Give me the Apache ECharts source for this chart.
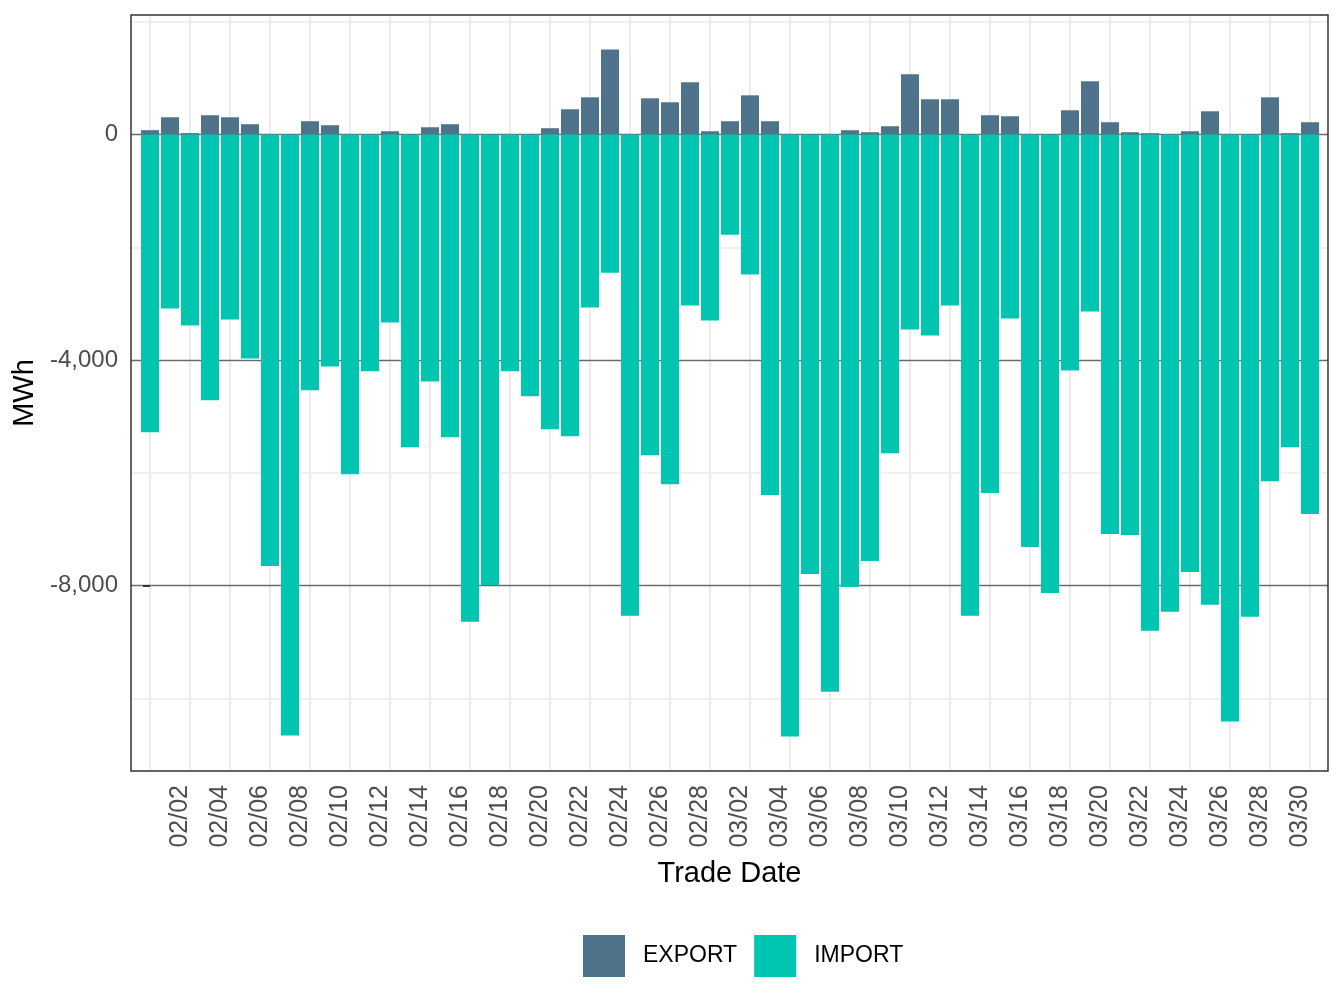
<!DOCTYPE html>
<html>
<head>
<meta charset="utf-8">
<title>Trade Date - MWh</title>
<script src="https://cdn.jsdelivr.net/npm/echarts@6/dist/echarts.min.js"></script>
</head>
<body style="margin:0;background:#fff">
<div id="main" style="width:1344px;height:1008px;"></div>
<script type="text/javascript">
var dates = ['02/01','02/02','02/03','02/04','02/05','02/06','02/07','02/08','02/09','02/10',
    '02/11','02/12','02/13','02/14','02/15','02/16','02/17','02/18','02/19','02/20',
    '02/21','02/22','02/23','02/24','02/25','02/26','02/27','02/28',
    '03/01','03/02','03/03','03/04','03/05','03/06','03/07','03/08','03/09','03/10',
    '03/11','03/12','03/13','03/14','03/15','03/16','03/17','03/18','03/19','03/20',
    '03/21','03/22','03/23','03/24','03/25','03/26','03/27','03/28','03/29','03/30','03/31'];

var exportVals = [77, 306, 25, 342, 306, 183, 0, 0, 236, 165,
    0, 0, 58, 0, 129, 183, 0, 0, 0, 0,
    112, 448, 660, 1510, 0, 642, 572, 926, 58, 236,
    695, 236, 0, 0, 0, 76, 41, 147, 1067, 625,
    625, 0, 342, 324, 0, 0, 430, 943, 218, 41,
    23, 0, 58, 412, 0, 0, 660, 23, 218];

var importVals = [-5281, -3086, -3387, -4715, -3281, -3971, -7653, -10662, -4538, -4113,
    -6025, -4201, -3334, -5547, -4379, -5370, -8644, -7989, -4201, -4644,
    -5228, -5352, -3069, -2450, -8538, -5688, -6202, -3034, -3299, -1777,
    -2485, -6396, -10680, -7795, -9883, -8025, -7565, -5653, -3458, -3565,
    -3034, -8538, -6361, -3264, -7317, -8131, -4184, -3140, -7087, -7104,
    -8803, -8467, -7759, -8343, -10414, -8556, -6149, -5547, -6733];

// labelled ticks sit on every other day starting 02/02, grid lines on the days in between
var xTicks = [1, 3, 5, 7, 9, 11, 13, 15, 17, 19, 21, 23, 25, 27, 29, 31, 33, 35, 37, 39,
    41, 43, 45, 47, 49, 51, 53, 55, 57];
var xGrid = [0, 2, 4, 6, 8, 10, 12, 14, 16, 18, 20, 22, 24, 26, 28, 30, 32, 34, 36, 38,
    40, 42, 44, 46, 48, 50, 52, 54, 56, 58];
var yTicks = [-8000, -4000, 0];
var yMinor = [-10000, -6000, -2000, 2000];

var xMin = -0.95, xMax = 58.9;
// the rotated date labels sit just right of their tick, so they go on a copy of the axis shifted half a day
var labelShift = 0.5;

var font = '"Liberation Sans", Arial, Helvetica, sans-serif';
var myChart = echarts.init(document.getElementById('main'));

var option = {
    animation: false,
    backgroundColor: '#fff',
    textStyle: {fontFamily: font},
    // panel border drawn above the grid lines
    grid: {
        left: 131, right: 16, top: 15, bottom: 237, z: 2,
        show: true, borderColor: '#333', borderWidth: 1.5
    },
    legend: {
        data: ['EXPORT', 'IMPORT'],
        left: 583, top: 935,
        padding: 0,
        itemWidth: 42, itemHeight: 42, itemGap: 17,
        icon: 'rect',
        textStyle: {fontSize: 23, color: '#000', fontFamily: font, padding: [0, 0, 0, 13]}
    },
    xAxis: [{
        type: 'value', min: xMin, max: xMax, position: 'bottom', z: 1,
        name: 'Trade Date', nameLocation: 'middle', nameGap: 88,
        nameTextStyle: {fontSize: 29, color: '#000', fontFamily: font},
        axisLine: {show: false},
        axisTick: {show: true, customValues: xTicks, length: 7, lineStyle: {color: '#333', width: 2}},
        axisLabel: {show: false},
        splitLine: {show: false}
    }, {
        type: 'value', min: xMin, max: xMax, position: 'top', z: 0,
        axisLine: {show: false},
        axisTick: {show: false, customValues: xGrid},
        axisLabel: {show: false},
        splitLine: {show: true, lineStyle: {color: '#EBEBEB', width: 2}}
    }, {
        type: 'value', min: xMin - labelShift, max: xMax - labelShift, position: 'bottom', z: 1,
        axisLine: {show: false},
        axisTick: {show: false},
        axisLabel: {
            customValues: xTicks, rotate: 90, margin: 14,
            fontSize: 25, color: '#4D4D4D', fontFamily: font,
            formatter: function (v) { return dates[v]; }
        },
        splitLine: {show: false}
    }],
    yAxis: [{
        type: 'value', min: -11290, max: 2120, z: 1,
        name: 'MWh', nameLocation: 'middle', nameGap: 90, nameRotate: 90,
        nameTextStyle: {fontSize: 29, color: '#000', fontFamily: font},
        axisLine: {show: false},
        axisTick: {show: true, customValues: yTicks, length: 7, lineStyle: {color: '#333', width: 2}},
        axisLabel: {
            customValues: yTicks, margin: 13, fontSize: 24, color: '#4D4D4D', fontFamily: font,
            formatter: function (v) { return v.toLocaleString('en-US'); }
        },
        splitLine: {show: true, lineStyle: {color: '#6B6B6B', width: 1.3}}
    }, {
        type: 'value', min: -11290, max: 2120, position: 'right', z: 0,
        axisLine: {show: false},
        axisTick: {show: false, customValues: yMinor},
        axisLabel: {show: false},
        splitLine: {show: true, lineStyle: {color: '#EBEBEB', width: 1.5}}
    }],
    series: [{
        name: 'EXPORT', type: 'bar', stack: 'total', barWidth: 18,
        xAxisIndex: 0, yAxisIndex: 0, z: 3,
        itemStyle: {color: '#4E738A'},
        data: exportVals.map(function (v, i) { return [i, v]; })
    }, {
        name: 'IMPORT', type: 'bar', stack: 'total', barWidth: 18,
        xAxisIndex: 0, yAxisIndex: 0, z: 3,
        itemStyle: {color: '#00C5B1'},
        data: importVals.map(function (v, i) { return [i, v]; })
    }]
};

myChart.setOption(option);
</script>
</body>
</html>
